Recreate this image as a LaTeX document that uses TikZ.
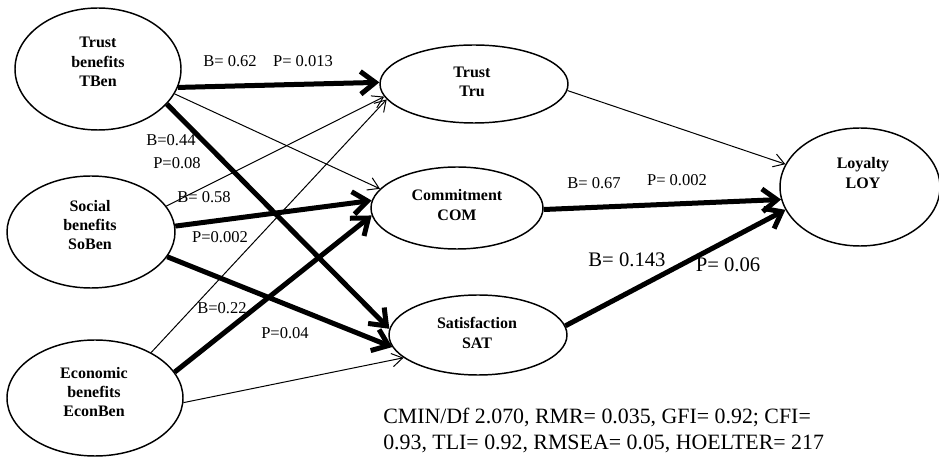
\documentclass[tikz,border=0pt]{standalone}
\usepackage{fontspec}
\setmainfont{Liberation Serif}
\usetikzlibrary{shapes.geometric,arrows.meta}
\begin{document}
\begin{tikzpicture}[x=0.75pt,y=-0.75pt,
  ell/.style={draw,line width=1.1pt,ellipse,inner sep=0pt,fill=white},
  nodetext/.style={font=\fontsize{12}{14.5}\selectfont\bfseries,align=center,inner sep=0pt},
  lab/.style={font=\fontsize{12.4}{14}\selectfont,inner sep=0pt},
  biglab/.style={font=\fontsize{15.5}{17}\selectfont,inner sep=0pt},
  bigarrow/.style={line width=3.75pt,-{Straight Barb[length=11pt,width=17pt]}},
  smallarrow/.style={line width=0.75pt,-{Straight Barb[length=8pt,width=10pt]}}]
\useasboundingbox (0,0) rectangle (939,459);
% latent variables
\node[ell,minimum width=124.5pt,minimum height=91.5pt] (tben) at (98,69) {};
\node[ell,minimum width=126pt,minimum height=84pt] (soben) at (91,232) {};
\node[ell,minimum width=132pt,minimum height=87pt] (econ) at (95,398) {};
\node[ell,minimum width=141pt,minimum height=58.5pt] (tru) at (474,84) {};
\node[ell,minimum width=129pt,minimum height=61.5pt] (com) at (457,208) {};
\node[ell,minimum width=133.5pt,minimum height=60pt] (sat) at (478,335) {};
\node[ell,minimum width=120pt,minimum height=88.5pt] (loy) at (860,187) {};
% texts in the ellipses
\node[nodetext] (tbent) at (98,62) {Trust\\benefits\\TBen};
\node[nodetext] (sobent) at (90,225) {Social\\benefits\\SoBen};
\node[nodetext] (econt) at (94,392) {Economic\\benefits\\EconBen};
\node[nodetext] (trut) at (472,82) {Trust\\Tru};
\node[nodetext] (comt) at (457,205) {Commitment\\COM};
\node[nodetext] (satt) at (477,333) {Satisfaction\\SAT};
\node[nodetext] (loyt) at (863,173) {Loyalty\\LOY};
% paths
\draw[bigarrow] (tben.-13) -- (tru.179);
\draw[smallarrow] (tben.-18) -- (com.166);
\draw[bigarrow] (tben.-27) -- (sat.176);
\draw[smallarrow] (soben.19) -- (tru.-172);
\draw[bigarrow] (soben.4) -- (com.175);
\draw[bigarrow] (soben.-18) -- (sat.-172);
\draw[smallarrow] (econ.39) -- (tru.-170);
\draw[bigarrow] (econ.18) -- (com.-175);
\draw[smallarrow] (econ.-3) -- (sat.-163);
\draw[smallarrow] (tru.-4) -- (loy.163);
\draw[bigarrow] (com.-1) -- (loy.-171);
\draw[bigarrow] (sat.6) -- (loy.-163);
% coefficients
\node[lab] (l1) at (230,61) {B= 0.62};
\node[lab] (l2) at (303,61) {P= 0.013};
\node[lab] (l3) at (171,140) {B=0.44};
\node[lab] (l4) at (177,163) {P=0.08};
\node[lab] (l5) at (204,197) {B= 0.58};
\node[lab] (l6) at (220,237) {P=0.002};
\node[lab] (l7) at (222,308) {B=0.22};
\node[lab] (l8) at (285,333) {P=0.04};
\node[lab] (l9) at (594,183) {B= 0.67};
\node[lab] (l10) at (677,180) {P= 0.002};
\node[biglab] (l11) at (627,260) {B= 0.143};
\node[biglab] (l12) at (728,265) {P= 0.06};
% fit indices
\node[font=\fontsize{16.4}{19.5}\selectfont,align=left,anchor=west,inner sep=0pt] (fit) at (383,430)
  {CMIN/Df 2.070, RMR= 0.035, GFI= 0.92; CFI=\\0.93, TLI= 0.92, RMSEA= 0.05, HOELTER= 217};
\end{tikzpicture}
\end{document}
